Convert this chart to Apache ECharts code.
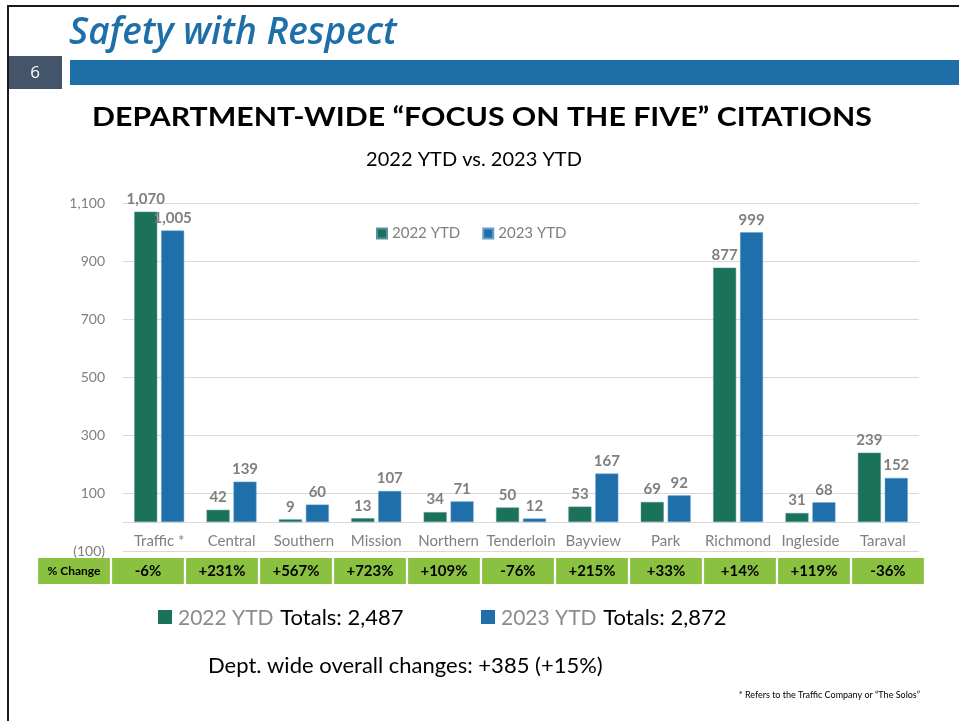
<!DOCTYPE html>
<html>
<head>
<meta charset="utf-8">
<script src="https://cdn.jsdelivr.net/npm/echarts@6/dist/echarts.min.js"></script>
<style>
  html, body { margin: 0; padding: 0; background: #fff; }
  #main { width: 959px; height: 721px; }
</style>
</head>
<body>
<div id="main"></div>
<script>
var stations = ['Traffic *', 'Central', 'Southern', 'Mission', 'Northern', 'Tenderloin', 'Bayview', 'Park', 'Richmond', 'Ingleside', 'Taraval'];
var ytd2022 = [1070, 42, 9, 13, 34, 50, 53, 69, 877, 31, 239];
var ytd2023 = [1005, 139, 60, 107, 71, 12, 167, 92, 999, 68, 152];
var pctChange = ['-6%', '+231%', '+567%', '+723%', '+109%', '-76%', '+215%', '+33%', '+14%', '+119%', '-36%'];
var yTicks = { min: -100, max: 1100, step: 200 };

var green = '#1a7358';
var blue = '#1f6fab';
var tableGreen = '#8bc140';
var grey = '#7f7f7f';
var font = 'Lato, "Open Sans", sans-serif';

function fmt(n) { return n.toLocaleString('en-US'); }
function sum(a) { return a.reduce(function (s, v) { return s + v; }, 0); }

var total22 = sum(ytd2022);
var total23 = sum(ytd2023);
var diff = total23 - total22;
var diffPct = Math.round(diff / total22 * 100);

// table row: first cell is the row header, then one cell per station
var tableCats = ['% Change'].concat(stations);
var tableData = tableCats.map(function (c, i) {
  return {
    value: 1,
    label: i === 0 ? { formatter: '% Change', fontSize: 12 } : { formatter: pctChange[i - 1] }
  };
});

var chart = echarts.init(document.getElementById('main'), null, { renderer: 'canvas' });

var option = {
  animation: false,
  backgroundColor: '#fff',
  textStyle: { fontFamily: font },
  grid: [
    { left: 123, right: 40, top: 203, height: 348 },
    { left: 37, right: 34, top: 558, height: 26 },
    // thin strip ending at the zero line, only used to place the station names
    { left: 123, right: 40, top: 503, height: 19 }
  ],
  legend: {
    left: 371,
    top: 221,
    itemWidth: 10,
    itemHeight: 10,
    itemGap: 22,
    icon: 'rect',
    textStyle: { color: grey, fontSize: 15, fontFamily: font },
    data: ['2022 YTD', '2023 YTD']
  },
  xAxis: [
    {
      type: 'category',
      gridIndex: 0,
      data: stations,
      axisTick: { show: false },
      axisLine: { lineStyle: { color: '#d9d9d9' } },
      axisLabel: { show: false }
    },
    {
      type: 'category',
      gridIndex: 1,
      data: tableCats,
      show: false
    },
    {
      type: 'category',
      gridIndex: 2,
      data: stations,
      axisLine: { show: false },
      axisTick: { show: false },
      axisLabel: { color: grey, fontSize: 15, margin: 12, interval: 0, fontFamily: font }
    }
  ],
  yAxis: [
    {
      type: 'value',
      gridIndex: 0,
      min: yTicks.min,
      max: yTicks.max,
      interval: yTicks.step,
      axisLine: { show: false },
      axisTick: { show: false },
      splitLine: { lineStyle: { color: '#d9d9d9' } },
      axisLabel: {
        color: grey,
        fontSize: 14,
        margin: 18,
        formatter: function (v) { return v < 0 ? '(' + fmt(-v) + ')' : fmt(v); }
      }
    },
    { type: 'value', gridIndex: 1, min: 0, max: 1, show: false },
    { type: 'value', gridIndex: 2, min: 0, max: 1, show: false }
  ],
  series: [
    {
      name: '2022 YTD',
      type: 'bar',
      data: ytd2022,
      barWidth: 23,
      barGap: '17%',
      itemStyle: { color: green, borderColor: '#5b8fa8', borderWidth: 0.5 },
      label: {
        show: true, position: 'top', color: grey, fontWeight: 'bold', fontSize: 15,
        formatter: function (p) { return fmt(p.value); }
      }
    },
    {
      name: '2023 YTD',
      type: 'bar',
      data: ytd2023,
      barWidth: 23,
      itemStyle: { color: blue, borderColor: '#6aa0c8', borderWidth: 0.5 },
      label: {
        show: true, position: 'top', color: grey, fontWeight: 'bold', fontSize: 15,
        formatter: function (p) { return fmt(p.value); }
      }
    },
    {
      type: 'bar',
      xAxisIndex: 1,
      yAxisIndex: 1,
      data: tableData,
      barCategoryGap: '3%',
      silent: true,
      itemStyle: { color: tableGreen },
      label: { show: true, position: 'inside', color: '#000', fontWeight: 'bold', fontSize: 15 }
    }
  ],
  graphic: [
    // slide frame
    { type: 'rect', shape: { x: 7, y: 5, width: 952, height: 2 }, style: { fill: '#1a1a1a' } },
    { type: 'rect', shape: { x: 7, y: 5, width: 2, height: 716 }, style: { fill: '#1a1a1a' } },
    // page number box and banner
    { type: 'rect', shape: { x: 9, y: 56, width: 53, height: 33 }, style: { fill: '#44546a' } },
    { type: 'text', x: 35, y: 73, style: { text: '6', fill: '#fff', font: '17px "Open Sans", sans-serif', align: 'center', verticalAlign: 'middle' } },
    { type: 'rect', shape: { x: 70, y: 60, width: 889, height: 25 }, style: { fill: '#1e6fa8' } },
    { type: 'text', x: 69, y: 33, style: { text: 'Safety with Respect', fill: '#1e6fa8', font: 'italic 600 37px "Open Sans", sans-serif', verticalAlign: 'middle' } },
    // headings
    { type: 'text', x: 482, y: 117, scaleX: 1.12, style: { text: 'DEPARTMENT-WIDE \u201CFOCUS ON THE FIVE\u201D CITATIONS', fill: '#000', font: 'bold 27px Lato, sans-serif', align: 'center', verticalAlign: 'middle' } },
    { type: 'text', x: 474, y: 160, style: { text: '2022 YTD vs. 2023 YTD', fill: '#000', font: '20px Lato, sans-serif', align: 'center', verticalAlign: 'middle' } },
    // totals
    { type: 'rect', shape: { x: 158, y: 610, width: 14, height: 14 }, style: { fill: green } },
    { type: 'text', x: 178, y: 618, style: { text: '{g|2022 YTD}  {b|Totals: ' + fmt(total22) + '}', verticalAlign: 'middle', rich: { g: { fill: '#8c8c8c', font: '21px Lato, sans-serif' }, b: { fill: '#000', font: '22px Lato, sans-serif' } } } },
    { type: 'rect', shape: { x: 481, y: 610, width: 14, height: 14 }, style: { fill: blue } },
    { type: 'text', x: 501, y: 618, style: { text: '{g|2023 YTD}  {b|Totals: ' + fmt(total23) + '}', verticalAlign: 'middle', rich: { g: { fill: '#8c8c8c', font: '21px Lato, sans-serif' }, b: { fill: '#000', font: '22px Lato, sans-serif' } } } },
    { type: 'text', x: 208, y: 666, style: { text: 'Dept. wide overall changes: +' + diff + ' (+' + diffPct + '%)', fill: '#000', font: '22px Lato, sans-serif', verticalAlign: 'middle' } },
    { type: 'text', x: 920, y: 695, style: { text: '* Refers to the Traffic Company or \u201CThe Solos\u201D', fill: '#000', font: '9px Lato, sans-serif', align: 'right', verticalAlign: 'middle' } }
  ]
};

chart.setOption(option);
</script>
</body>
</html>
